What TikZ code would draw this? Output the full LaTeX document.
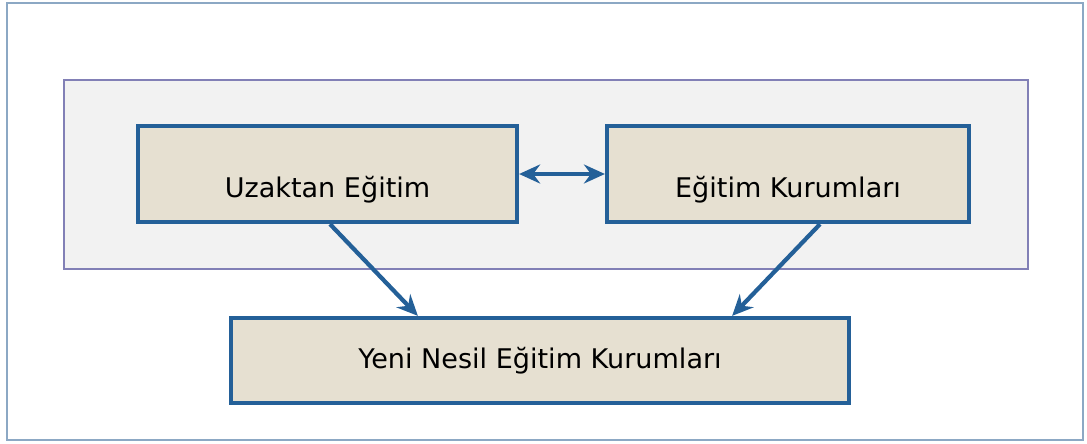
\documentclass[tikz,border=0pt]{standalone}
\usepackage{fontspec}
\setmainfont{DejaVu Sans}
\usepackage{tikz}
\usetikzlibrary{arrows.meta, positioning, backgrounds}
\definecolor{frame}{RGB}{140, 168, 196}
\definecolor{panel}{RGB}{242, 242, 242}
\definecolor{panelline}{RGB}{130, 128, 182}
\definecolor{boxfill}{RGB}{230, 224, 209}
\definecolor{boxline}{RGB}{36, 96, 152}

\begin{document}
\begin{tikzpicture}[
  unit/.style={draw=boxline, line width=2.4pt, fill=boxfill, minimum height=1.92cm,
    align=center, font=\fontsize{15.4}{18}\selectfont, text height=0.92cm, text depth=0pt},
  target/.style={draw=boxline, line width=2.4pt, fill=boxfill, minimum width=12.36cm,
    minimum height=1.7cm, align=center, font=\fontsize{15.4}{18}\selectfont},
  ar/.style={-{Stealth[length=4.2mm, width=3.8mm, inset=1.4mm]}, line width=2.4pt, boxline},
  dar/.style={{Stealth[length=4.2mm, width=3.8mm, inset=1.4mm]}-{Stealth[length=4.2mm, width=3.8mm, inset=1.4mm]},
    line width=2.4pt, boxline}
]
\useasboundingbox (0,0) rectangle (21.74,-8.86);
\draw[frame, line width=1.4pt] (0.14,-0.06) rectangle (21.66,-8.8);
\draw[panelline, fill=panel, line width=1.2pt] (1.28,-1.6) rectangle (20.56,-5.38);

\node[unit, minimum width=7.58cm] (ue) at (6.55,-3.48) {Uzaktan Eğitim};
\node[unit, minimum width=7.24cm] (ek) at (15.76,-3.48) {Eğitim Kurumları};
\node[target] (yn) at (10.8,-7.21) {Yeni Nesil Eğitim Kurumları};

\draw[dar] (ue) -- (ek);
\draw[ar] ([xshift=0.05cm]ue.south) -- ([xshift=3.78cm]yn.north west);
\draw[ar] ([xshift=0.64cm]ek.south) -- ([xshift=-2.38cm]yn.north east);
\end{tikzpicture}
\end{document}
